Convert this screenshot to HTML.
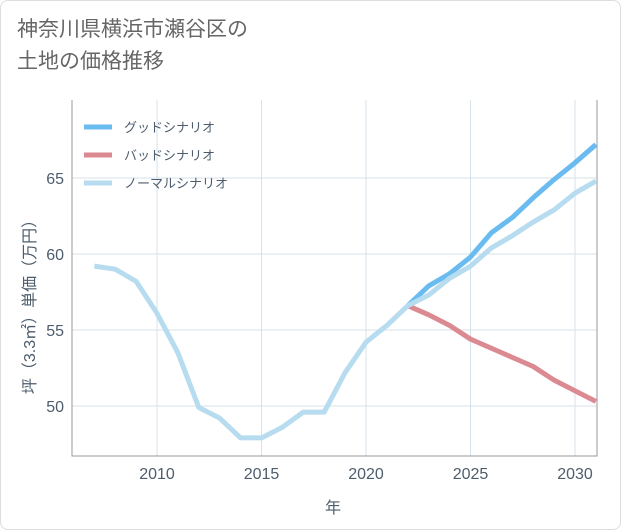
<!DOCTYPE html>
<html><head><meta charset="utf-8"><style>
body{margin:0;background:#fff;font-family:"Liberation Sans","Noto Sans CJK JP",sans-serif;}
#card{position:absolute;left:0;top:0;width:619px;height:528px;border:1px solid #ddd;border-radius:8px;background:#fff;}
#title{position:absolute;left:17px;top:14px;font-size:21px;line-height:32px;color:#666;}
</style></head><body>
<div id="card"></div>
<div id="title">神奈川県横浜市瀬谷区の<br>土地の価格推移</div>
<svg id="chart" width="621" height="530" style="position:absolute;left:0;top:0"></svg>
<script>
const years=[2007,2008,2009,2010,2011,2012,2013,2014,2015,2016,2017,2018,2019,2020,2021,2022,2023,2024,2025,2026,2027,2028,2029,2030,2031];
const normal=[59.2,59.0,58.2,56.1,53.5,49.9,49.2,47.9,47.9,48.6,49.6,49.6,52.2,54.2,55.3,56.6,57.3,58.4,59.2,60.4,61.2,62.1,62.9,64.0,64.8];
const futureYears=[2022,2023,2024,2025,2026,2027,2028,2029,2030,2031];
const good=[56.6,57.9,58.7,59.8,61.4,62.4,63.7,64.9,66.0,67.2];
const bad=[56.6,56.0,55.3,54.4,53.8,53.2,52.6,51.7,51.0,50.3];
const xTicks=[2010,2015,2020,2025,2030];
const yTicks=[50,55,60,65];
const ns="http://www.w3.org/2000/svg";
const svg=document.getElementById('chart');
const L=72,R=597,T=100,B=456;
const TC='#4d5d6d';
const x=v=>157+(v-2010)*20.9;
const y=v=>254-(v-60)*15.2;
function mk(t,a){const e=document.createElementNS(ns,t);for(const k in a)e.setAttribute(k,a[k]);svg.appendChild(e);return e;}
for(const t of xTicks){const g=mk('line',{x1:x(t),x2:x(t),y1:T,y2:B,stroke:'#d6e2ea','stroke-width':1});


const l=mk('text',{x:x(t),y:479,'text-anchor':'middle','font-size':16,fill:TC});l.textContent=t;

}
for(const t of yTicks){const g=mk('line',{x1:L,x2:R,y1:y(t),y2:y(t),stroke:'#d6e2ea','stroke-width':1});


const l=mk('text',{x:64,y:y(t)+6,'text-anchor':'end','font-size':16,fill:TC});l.textContent=t;

}
const ax=mk('polyline',{points:`${L},${T} ${L},${B} ${R},${B} ${R},${T}`,fill:'none',stroke:'#999','stroke-width':1});


function line(xs,vs,c,name){const p=mk('polyline',{points:xs.map((v,i)=>x(v)+','+y(vs[i])).join(' '),fill:'none',stroke:c,'stroke-width':5,'stroke-linejoin':'round'});

}
line(futureYears,bad,'#dc8a92','bad-scenario-line');
line(futureYears,good,'#6abcf0','good-scenario-line');
line(years,normal,'#b7dcef','normal-scenario-line');
const leg=[['グッドシナリオ','#6abcf0'],['バッドシナリオ','#dc8a92'],['ノーマルシナリオ','#b7dcef']];
leg.forEach((d,i)=>{const yy=127+i*28;
const s=mk('line',{x1:84,x2:112,y1:yy,y2:yy,stroke:d[1],'stroke-width':5});


const t=mk('text',{x:124,y:yy+5,'font-size':13,fill:TC});t.textContent=d[0];

});
const xt=mk('text',{x:333,y:513,'text-anchor':'middle','font-size':16,fill:TC});xt.textContent='年';


const yt=mk('text',{x:0,y:0,'text-anchor':'middle','font-size':16,fill:TC,transform:'translate(35,303) rotate(-90)'});yt.textContent='坪（3.3㎡）単価（万円）';


</script>
</body></html>
